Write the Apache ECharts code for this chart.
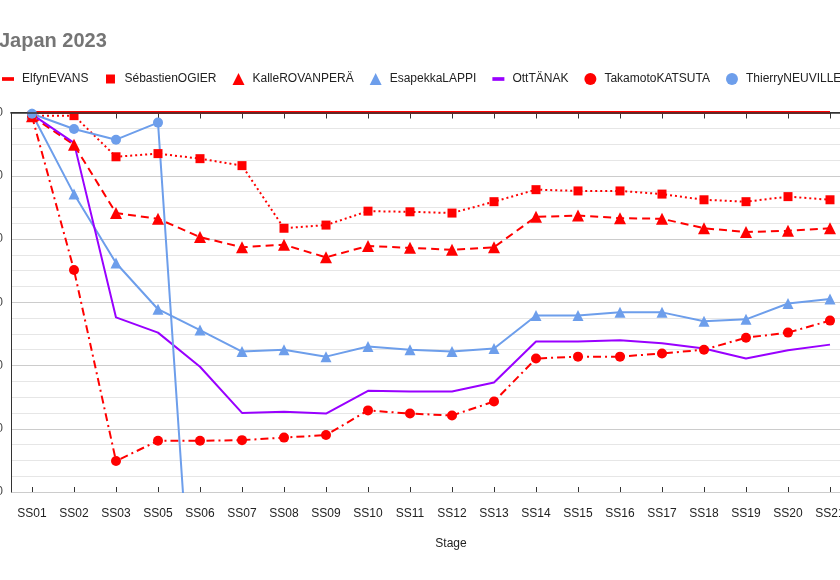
<!DOCTYPE html>
<html>
<head>
<meta charset="utf-8">
<script src="https://cdn.jsdelivr.net/npm/echarts@6/dist/echarts.min.js"></script>
<style>
html,body{margin:0;padding:0;background:#fff;}
#chart{width:840px;height:580px;}
</style>
</head>
<body>
<div id="chart"></div>
<script>
var categories = ['SS01','SS02','SS03','SS05','SS06','SS07','SS08','SS09','SS10','SS11','SS12','SS13','SS14','SS15','SS16','SS17','SS18','SS19','SS20','SS21'];
var yTicks = { min: -600, max: 0, interval: 100 };

var evans    = [0,0,0,0,0,0,0,0,0,0,0,0,0,0,0,0,0,0,0,0];
var ogier    = [-5,-5,-70,-65,-73,-84,-183,-178,-156,-157,-159,-141,-122,-124,-124,-129,-138,-141,-133,-138];
var rovanpera= [-6,-51,-159,-168,-197,-213,-209,-229,-211,-214,-217,-213,-165,-163,-167,-168,-183,-189,-187,-183];
var lappi    = [-2,-129,-238,-311,-344,-378,-375,-386,-370,-375,-378,-373,-321,-321,-316,-316,-330,-327,-302,-295];
var tanak    = [-3,-48,-324,-348,-402,-475,-473,-476,-440,-441,-441,-427,-362,-362,-360,-365,-373,-389,-376,-367];
var katsuta  = [-6,-249,-551,-519,-519,-518,-514,-510,-471,-476,-479,-457,-389,-386,-386,-381,-375,-356,-348,-329];
var neuville = [-2,-26,-43,-16,-1000,null,null,null,null,null,null,null,null,null,null,null,null,null,null,null];

var names = ['ElfynEVANS','SébastienOGIER','KalleROVANPERÄ','EsapekkaLAPPI','OttTÄNAK','TakamotoKATSUTA','ThierryNEUVILLE'];

var FONT = 'Liberation Sans, Arial, sans-serif';
var RED = '#ff0000', BLUE = '#6d9eeb', PURPLE = '#9900ff';
var lineIcon = 'path://M0,0H13V4H0Z';
var squareIcon = 'path://M0,0M12,12M1.5,1.5H10.5V10.5H1.5Z';

function mk(name, data, color, type, width, symbol, size) {
  return {
    name: name, type: 'line', data: data, xAxisIndex: 0,
    symbol: symbol || 'none', symbolSize: size || 0,
    showSymbol: !!symbol,
    connectNulls: false,
    lineStyle: { color: color, width: width, type: type },
    itemStyle: { color: color, borderWidth: 0 },
    emphasis: { disabled: true }
  };
}

var chart = echarts.init(document.getElementById('chart'), null, { renderer: 'canvas' });
chart.setOption({
  animation: false,
  backgroundColor: '#ffffff',
  textStyle: { fontFamily: FONT },
  title: {
    text: 'Japan 2023', left: -1, top: 31, padding: 0,
    textStyle: { fontFamily: FONT, fontSize: 20, fontWeight: 'bold', color: '#757575' }
  },
  legend: {
    left: 2, top: 73, width: 1200, padding: 0,
    itemWidth: 12, itemHeight: 12, itemGap: 16,
    selectedMode: false,
    textStyle: { fontFamily: FONT, fontSize: 12, color: '#222222', padding: [0,0,0,3] },
    data: [
      { name: names[0], icon: lineIcon },
      { name: names[1], icon: squareIcon },
      { name: names[2], icon: 'triangle' },
      { name: names[3], icon: 'triangle' },
      { name: names[4], icon: lineIcon },
      { name: names[5], icon: 'circle' },
      { name: names[6], icon: 'circle' }
    ]
  },
  grid: { left: 11, right: -11, top: 112.5, bottom: 88, containLabel: false, outerBoundsMode: 'none' },
  xAxis: [
    {
      type: 'category', data: categories, position: 'bottom', boundaryGap: true,
      name: 'Stage', nameLocation: 'middle', nameGap: 46,
      nameTextStyle: { fontFamily: FONT, fontSize: 12, color: '#222222', padding: [0,0,0,40] },
      axisLine: { show: true, lineStyle: { color: '#333333', width: 1 } },
      axisTick: { show: true, alignWithLabel: true, length: 6, lineStyle: { color: '#333333' } },
      axisLabel: { fontFamily: FONT, fontSize: 12, color: '#222222', margin: 16, interval: 0 },
      splitLine: { show: false }
    },
    {
      type: 'category', data: categories, position: 'top', boundaryGap: true, z: 5,
      axisLine: { show: true, lineStyle: { color: '#333333', width: 1.5 } },
      axisTick: { show: false }, axisLabel: { show: false }, splitLine: { show: false }
    },
    {
      type: 'category', data: categories, position: 'bottom', boundaryGap: true,
      axisLine: { show: false },
      axisTick: { show: true, inside: true, alignWithLabel: true, length: 5, lineStyle: { color: '#333333' } },
      axisLabel: { show: false }, splitLine: { show: false }
    }
  ],
  yAxis: {
    type: 'value', min: yTicks.min, max: yTicks.max, interval: yTicks.interval,
    axisLine: { show: true, lineStyle: { color: '#333333', width: 1 } },
    axisTick: { show: false },
    axisLabel: { fontFamily: FONT, fontSize: 12, color: '#444444', margin: 8 },
    splitLine: { show: true, lineStyle: { color: '#cccccc', width: 1 } },
    minorTick: { show: false, splitNumber: 4 },
    minorSplitLine: { show: true, lineStyle: { color: '#e6e6e6', width: 1 } }
  },
  series: [
    Object.assign(mk(names[0], evans, RED, 'solid', 3), { z: 1 }),
    mk(names[1], ogier, RED, [2,3], 2, 'rect', 9),
    mk(names[2], rovanpera, RED, [8,5], 2, 'triangle', 12),
    mk(names[3], lappi, BLUE, 'solid', 2, 'triangle', 11),
    mk(names[4], tanak, PURPLE, 'solid', 2),
    mk(names[5], katsuta, RED, [8,4,2,4], 2, 'circle', 10),
    mk(names[6], neuville, BLUE, 'solid', 2, 'circle', 10)
  ]
});
</script>
</body>
</html>
